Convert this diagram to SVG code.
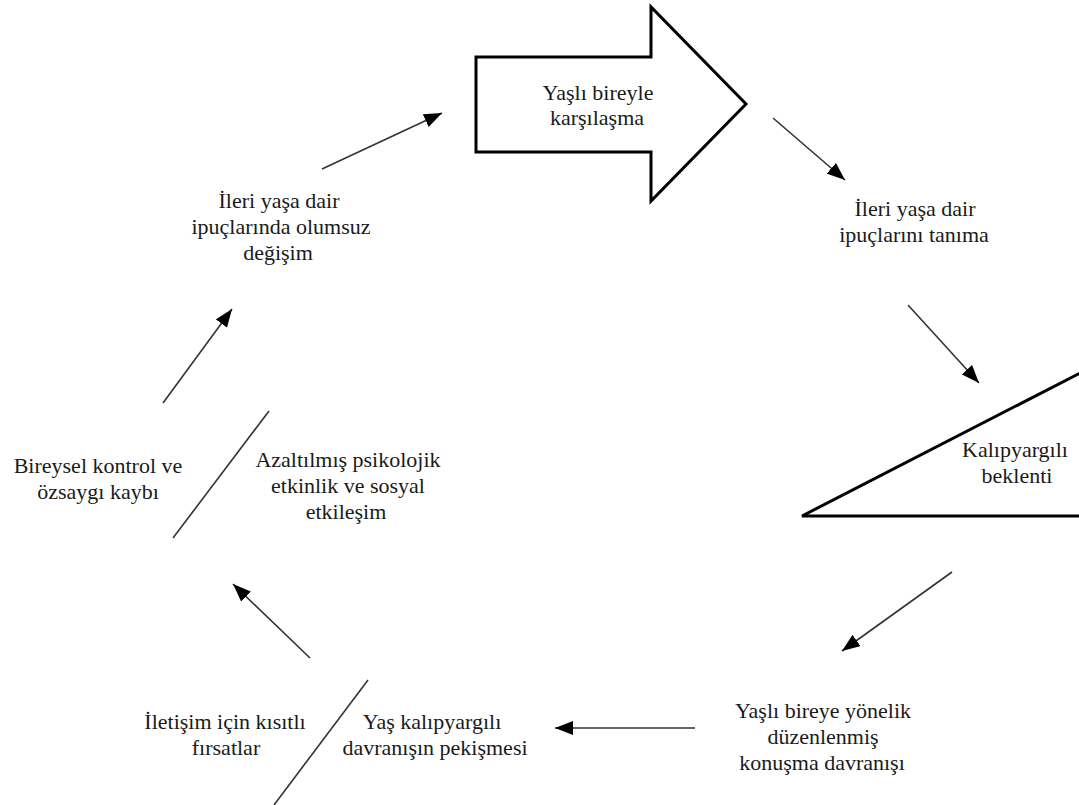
<svg xmlns="http://www.w3.org/2000/svg" width="1079" height="805" viewBox="0 0 1079 805">
<style>
.t{font-family:"Liberation Serif","Times New Roman",serif;font-size:22px;fill:#1a1a1a;text-anchor:middle}
.shape{fill:#fff;stroke:#000;stroke-width:3;stroke-linejoin:miter}
.c{stroke:#333;stroke-width:1.6;fill:none}
.ca{stroke:#333;stroke-width:1.6;fill:none;marker-end:url(#ah)}
</style>
<defs>
<marker id="ah" viewBox="0 0 18 14" refX="18" refY="7" markerWidth="18" markerHeight="14" markerUnits="userSpaceOnUse" orient="auto">
<path d="M0,0 L18,7 L0,14 z" fill="#000"/>
</marker>
</defs>
<rect width="1079" height="805" fill="#fff"/>
<g id="connectors">
<line class="ca" x1="322" y1="169" x2="442" y2="113"/>
<line class="ca" x1="773" y1="118" x2="845" y2="180"/>
<line class="ca" x1="908" y1="305" x2="979" y2="383"/>
<line class="ca" x1="952" y1="572" x2="842" y2="651"/>
<line class="ca" x1="695" y1="728" x2="555" y2="728"/>
<line class="ca" x1="310" y1="658" x2="233" y2="584"/>
<line class="ca" x1="163" y1="403" x2="232" y2="309"/>
<line class="c" x1="269" y1="411" x2="173" y2="538"/>
<line class="c" x1="368" y1="680" x2="274" y2="805"/>
</g>
<g id="node-karsilasma">
<polygon class="shape" points="476,57 651,57 651,7 746,104 651,201 651,152 476,152"/>
<text class="t" x="598" y="100">Yaşlı bireyle</text>
<text class="t" x="597" y="125">karşılaşma</text>
</g>
<g id="node-tanima">
<text class="t" x="915" y="216">İleri yaşa dair</text>
<text class="t" x="914" y="242">ipuçlarını tanıma</text>
</g>
<g id="node-beklenti">
<polygon class="shape" points="802,516 1084,371 1084,516"/>
<text class="t" x="1015" y="457">Kalıpyargılı</text>
<text class="t" x="1017" y="483">beklenti</text>
</g>
<g id="node-konusma">
<text class="t" x="823" y="718">Yaşlı bireye yönelik</text>
<text class="t" x="823" y="744">düzenlenmiş</text>
<text class="t" x="822" y="770">konuşma davranışı</text>
</g>
<g id="node-pekisme">
<text class="t" x="432" y="729">Yaş kalıpyargılı</text>
<text class="t" x="435" y="755">davranışın pekişmesi</text>
</g>
<g id="node-firsatlar">
<text class="t" x="225" y="729">İletişim için kısıtlı</text>
<text class="t" x="226" y="755">fırsatlar</text>
</g>
<g id="node-azaltilmis">
<text class="t" x="348" y="467">Azaltılmış psikolojik</text>
<text class="t" x="348" y="493">etkinlik ve sosyal</text>
<text class="t" x="346" y="519">etkileşim</text>
</g>
<g id="node-kontrol">
<text class="t" x="98" y="473">Bireysel kontrol ve</text>
<text class="t" x="98" y="499">özsaygı kaybı</text>
</g>
<g id="node-olumsuz">
<text class="t" x="279" y="208">İleri yaşa dair</text>
<text class="t" x="281" y="234">ipuçlarında olumsuz</text>
<text class="t" x="278" y="260">değişim</text>
</g>
</svg>
